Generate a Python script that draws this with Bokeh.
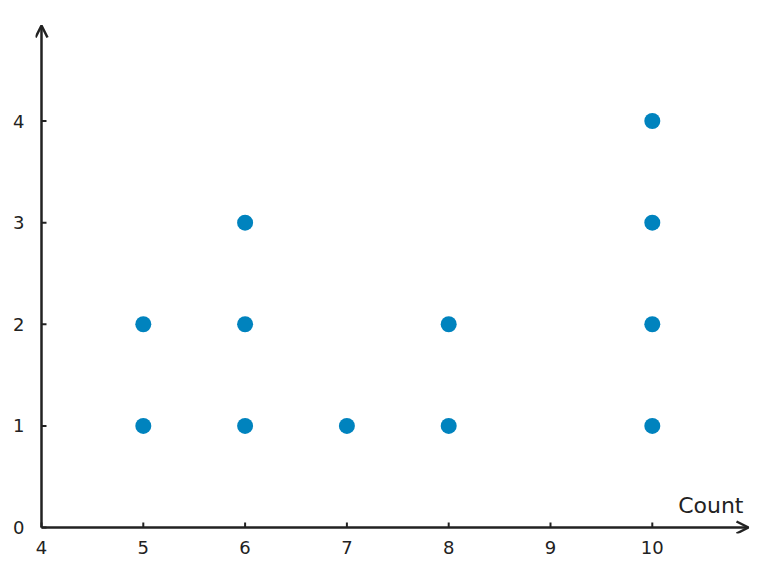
from bokeh.plotting import figure
from bokeh.models import Arrow, OpenHead, Label, FixedTicker, Range1d
from bokeh.embed import file_html
from bokeh.resources import INLINE

# data
counts = [5, 5, 6, 6, 6, 7, 8, 8, 10, 10, 10, 10]
stack = [1, 2, 1, 2, 3, 1, 1, 2, 1, 2, 3, 4]
x_ticks = [4, 5, 6, 7, 8, 9, 10]
y_ticks = [0, 1, 2, 3, 4]

X0, X1 = 4, 10.945
Y0, Y1 = 0, 4.94
PXX, PXY = 101.8, 101.67   # pixels per unit
PAD = 6                    # pixels of frame padding around the axis arrows
AX = "#222222"

p = figure(width=755, height=559, output_backend="svg", toolbar_location=None,
           x_range=Range1d(X0 - PAD / PXX, X1 + PAD / PXX),
           y_range=Range1d(Y0 - PAD / PXY, Y1 + PAD / PXY),
           min_border_left=35, min_border_right=1, min_border_top=19, min_border_bottom=26)
p.outline_line_color = None
p.grid.visible = False
p.background_fill_color = "white"
p.border_fill_color = "white"

for ax in (p.xaxis[0], p.yaxis[0]):
    ax.axis_line_color = None
    ax.major_tick_line_color = None
    ax.minor_tick_line_color = None
    ax.major_label_text_font = "DejaVu Sans"
    ax.major_label_text_font_size = "18px"
    ax.major_label_text_color = AX
p.xaxis.ticker = FixedTicker(ticks=x_ticks)
p.yaxis.ticker = FixedTicker(ticks=y_ticks)
p.xaxis.major_label_standoff = 1
p.yaxis.major_label_standoff = 5

# inward tick marks
TL = 5
p.segment(x0=x_ticks, y0=[0] * len(x_ticks), x1=x_ticks, y1=[TL / PXY] * len(x_ticks),
          line_color=AX, line_width=2)
p.segment(x0=[X0] * len(y_ticks), y0=y_ticks, x1=[X0 + TL / PXX] * len(y_ticks), y1=y_ticks,
          line_color=AX, line_width=2)

# axis arrows
p.add_layout(Arrow(end=OpenHead(size=12, line_color=AX, line_width=2.5),
                   x_start=X0, y_start=Y0, x_end=X1, y_end=Y0,
                   line_color=AX, line_width=2.5))
p.add_layout(Arrow(end=OpenHead(size=12, line_color=AX, line_width=2.5),
                   x_start=X0, y_start=Y0, x_end=X0, y_end=Y1,
                   line_color=AX, line_width=2.5))

p.scatter(counts, stack, size=16, color="#0083be", line_color=None)

p.add_layout(Label(x=X1, y=Y0, text="Count", text_align="right", text_baseline="alphabetic",
                   x_offset=-5, y_offset=22, text_font="DejaVu Sans", text_font_size="22px",
                   text_color=AX))

open("out.html", "w").write(file_html(p, INLINE))
